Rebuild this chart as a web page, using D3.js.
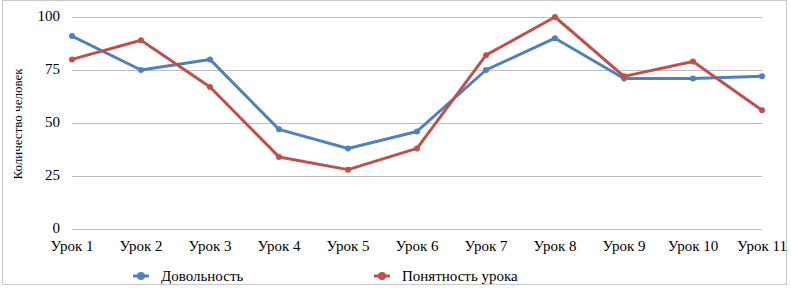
<!DOCTYPE html>
<html>
<head>
<meta charset="utf-8">
<script src="https://cdn.jsdelivr.net/npm/d3@7"></script>
<style>
  body { margin: 0; background: #fff; }
</style>
</head>
<body>
<script>
const width = 791;
const height = 288;
const serif = 'Tinos, "Liberation Serif", "DejaVu Serif", serif';

const lessons = ['Урок 1', 'Урок 2', 'Урок 3', 'Урок 4', 'Урок 5', 'Урок 6',
    'Урок 7', 'Урок 8', 'Урок 9', 'Урок 10', 'Урок 11'];
const satisfaction = [91, 75, 80, 47, 38, 46, 75, 90, 71, 71, 72];
const clarity = [80, 89, 67, 34, 28, 38, 82, 100, 72, 79, 56];
const yTicks = [0, 25, 50, 75, 100];

const series = [
    { name: 'Довольность', values: satisfaction, color: '#4f81bd' },
    { name: 'Понятность урока', values: clarity, color: '#c0504d' }
];

const svg = d3.select('body')
    .append('svg')
    .attr('width', width)
    .attr('height', height);

// outer frame
svg.append('rect')
    .attr('x', 2.5)
    .attr('y', 0.5)
    .attr('width', 784)
    .attr('height', 284)
    .style('fill', 'none')
    .style('stroke', '#c8c8c8');

const x = d3.scalePoint()
    .domain(lessons)
    .range([72, 762]);

const y = d3.scaleLinear()
    .domain([0, 100])
    .range([229, 17]);

// gridlines
svg.append('g')
    .selectAll('line')
    .data(yTicks)
    .enter().append('line')
    .attr('x1', 72)
    .attr('x2', 762)
    .attr('y1', d => y(d) + 0.5)
    .attr('y2', d => y(d) + 0.5)
    .style('stroke', '#bfbfbf')
    .style('stroke-width', 1.2);

// y tick labels
svg.append('g')
    .selectAll('text')
    .data(yTicks)
    .enter().append('text')
    .attr('x', 60)
    .attr('y', d => y(d) + 4)
    .attr('text-anchor', 'end')
    .style('font-family', serif)
    .style('font-size', '15px')
    .style('fill', '#000')
    .text(d => d);

// x tick labels
svg.append('g')
    .selectAll('text')
    .data(lessons)
    .enter().append('text')
    .attr('x', d => x(d))
    .attr('y', 251)
    .attr('text-anchor', 'middle')
    .style('font-family', serif)
    .style('font-size', '15px')
    .style('fill', '#000')
    .text(d => d);

// y axis title
svg.append('text')
    .attr('transform', 'translate(22,124) rotate(-90)')
    .attr('text-anchor', 'middle')
    .style('font-family', serif)
    .style('font-size', '13px')
    .text('Количество человек');

const line = d3.line()
    .x((d, i) => x(lessons[i]))
    .y(d => y(d));

const seriesG = svg.append('g')
    .selectAll('g')
    .data(series)
    .enter().append('g');

seriesG.append('path')
    .attr('d', d => line(d.values))
    .style('fill', 'none')
    .style('stroke', d => d.color)
    .style('stroke-width', 3)
    .style('stroke-linejoin', 'round');

seriesG.selectAll('circle')
    .data(d => d.values.map((v, i) => ({ v: v, i: i, color: d.color })))
    .enter().append('circle')
    .attr('cx', d => x(lessons[d.i]))
    .attr('cy', d => y(d.v))
    .attr('r', 3)
    .style('fill', d => d.color);

// legend
const legendX = [141, 382];
const legend = svg.append('g')
    .selectAll('g')
    .data(series)
    .enter().append('g')
    .attr('transform', (d, i) => `translate(${legendX[i]},276)`);

legend.append('line')
    .attr('x1', -8)
    .attr('x2', 8)
    .style('stroke', d => d.color)
    .style('stroke-width', 3);

legend.append('circle')
    .attr('r', 4)
    .style('fill', d => d.color);

legend.append('text')
    .attr('x', 20)
    .attr('y', 5)
    .style('font-family', serif)
    .style('font-size', '15px')
    .text(d => d.name);
</script>
</body>
</html>
